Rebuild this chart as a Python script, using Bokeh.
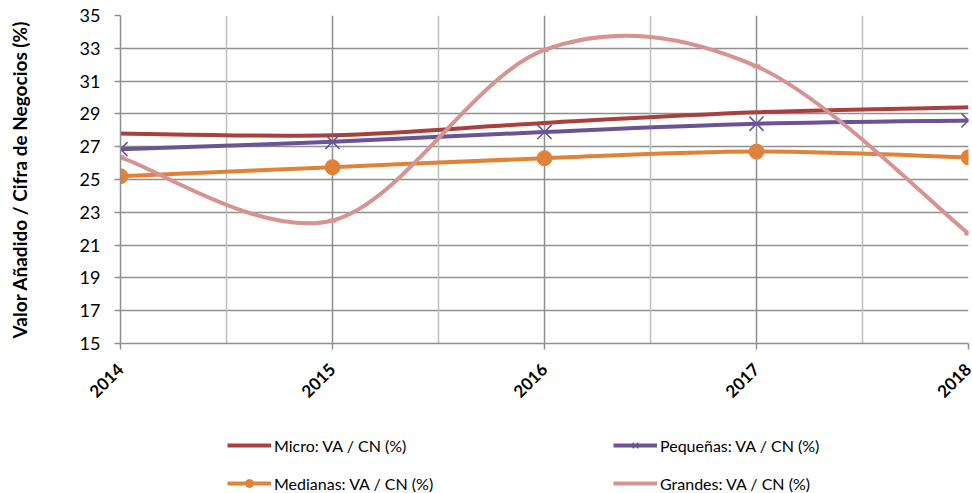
from bokeh.plotting import figure
from bokeh.models import (Range1d, FixedTicker, Grid, Legend, LegendItem)
from bokeh.layouts import column
from bokeh.embed import file_html
from bokeh.resources import INLINE
import math

# ---- data ----
years = [2014, 2015, 2016, 2017, 2018]
micro = [27.8, 27.7, 28.45, 29.1, 29.4]
pequenas = [26.85, 27.3, 27.9, 28.4, 28.6]
medianas = [25.2, 25.75, 26.3, 26.7, 26.35]
grandes = [26.35, 22.5, 32.9, 31.9, 21.7]

y_ticks = [15, 17, 19, 21, 23, 25, 27, 29, 31, 33, 35]
half_years = [2014.5, 2015.5, 2016.5, 2017.5]

labels = ["Micro: VA / CN (%)", "Pequeñas: VA / CN (%)",
          "Medianas: VA / CN (%)", "Grandes: VA / CN (%)"]
colors = ["#A8403E", "#6B5494", "#E0833A", "#D59392"]

FONT = "Lato"


def smooth_segments(xs, ys):
    """Bezier segments through the data points (spreadsheet-style smoothing)."""
    n = len(xs)
    out = dict(x0=[], y0=[], x1=[], y1=[], cx0=[], cy0=[], cx1=[], cy1=[])
    for i in range(n - 1):
        pm = i - 1 if i > 0 else i
        pp = i + 2 if i + 2 < n else i + 1
        out["x0"].append(xs[i]); out["y0"].append(ys[i])
        out["x1"].append(xs[i + 1]); out["y1"].append(ys[i + 1])
        out["cx0"].append(xs[i] + (xs[i + 1] - xs[pm]) / 6)
        out["cy0"].append(ys[i] + (ys[i + 1] - ys[pm]) / 6)
        out["cx1"].append(xs[i + 1] - (xs[pp] - xs[i]) / 6)
        out["cy1"].append(ys[i + 1] - (ys[pp] - ys[i]) / 6)
    return out


# ---------------- main chart ----------------
p1 = figure(width=972, height=420, output_backend="svg", toolbar_location=None,
            x_range=Range1d(2014, 2018), y_range=Range1d(15, 35),
            min_border_left=120, min_border_right=4, min_border_top=15,
            min_border_bottom=77)
p1.outline_line_color = None
p1.background_fill_color = "white"
p1.border_fill_color = "white"

p1.ygrid.ticker = FixedTicker(ticks=y_ticks)
p1.ygrid.grid_line_color = "#8F8F8F"
p1.ygrid.grid_line_width = 1.5
p1.xgrid.ticker = FixedTicker(ticks=years)
p1.xgrid.grid_line_color = "#8F8F8F"
p1.xgrid.grid_line_width = 1.5
p1.add_layout(Grid(dimension=0, ticker=FixedTicker(ticks=half_years),
                   grid_line_color="#BDBDBD", grid_line_width=1.5))

p1.xaxis.ticker = FixedTicker(ticks=years)
p1.yaxis.ticker = FixedTicker(ticks=y_ticks)
for ax in (p1.xaxis[0], p1.yaxis[0]):
    ax.axis_line_color = "#8F8F8F"
    ax.axis_line_width = 1.5
    ax.major_tick_line_color = "#8F8F8F"
    ax.major_tick_line_width = 1.5
    ax.major_tick_in = 0
    ax.major_tick_out = 6
    ax.minor_tick_line_color = None
    ax.major_label_text_font = FONT
    ax.major_label_text_font_size = "18px"
    ax.major_label_text_color = "black"

p1.xaxis.major_label_orientation = math.pi / 4
p1.xaxis.major_label_text_font_style = "bold"
p1.xaxis.major_label_text_font_size = "17px"
p1.xaxis.major_label_standoff = 17

p1.yaxis.major_label_standoff = 14
p1.yaxis.axis_label = "Valor Añadido / Cifra de Negocios (%)"
p1.yaxis.axis_label_text_font = FONT
p1.yaxis.axis_label_text_font_size = "19px"
p1.yaxis.axis_label_text_font_style = "bold"
p1.yaxis.axis_label_text_color = "black"
p1.yaxis.axis_label_standoff = 46

series = [micro, pequenas, medianas, grandes]
for ys, c in zip(series, colors):
    seg = smooth_segments(years, ys)
    p1.bezier(x0=seg["x0"], y0=seg["y0"], x1=seg["x1"], y1=seg["y1"],
              cx0=seg["cx0"], cy0=seg["cy0"], cx1=seg["cx1"], cy1=seg["cy1"],
              line_color=c, line_width=4)

p1.scatter(years, pequenas, marker="x", size=20, line_color=colors[1],
           line_width=1.6)
p1.scatter(years, medianas, marker="circle", size=15,
           fill_color=colors[2], line_color=colors[2])
p1.scatter(years, grandes, marker="dash", size=8, line_color=colors[3],
           line_width=4)

# ---------------- legend strip ----------------
# legend keys: the same series, drawn outside this strip's visible range
p2 = figure(width=972, height=73, output_backend="svg", toolbar_location=None,
            x_axis_location=None, y_axis_location=None,
            x_range=Range1d(0, 1), y_range=Range1d(0, 1),
            min_border=0, outline_line_color=None)
p2.grid.visible = False
p2.background_fill_color = "white"
p2.border_fill_color = "white"

leg_lines = [p2.line(x=years, y=ys, line_color=c, line_width=4)
             for ys, c in zip(series, colors)]
leg_peq = p2.scatter(x=years, y=pequenas, marker="x", size=11,
                     line_color=colors[1], line_width=1.5)
leg_med = p2.scatter(x=years, y=medianas, marker="circle", size=10,
                     fill_color=colors[2], line_color=colors[2])

common = dict(orientation="vertical", padding=0, margin=0, spacing=18,
              label_height=20, glyph_height=20, glyph_width=44,
              label_standoff=3, label_text_font=FONT,
              label_text_font_size="16px", label_text_color="black",
              border_line_color=None, background_fill_alpha=0)
leg1 = Legend(items=[LegendItem(label=labels[0], renderers=[leg_lines[0]]),
                     LegendItem(label=labels[2], renderers=[leg_lines[2], leg_med])],
              location=(107, 0), **common)
leg2 = Legend(items=[LegendItem(label=labels[1], renderers=[leg_lines[1], leg_peq]),
                     LegendItem(label=labels[3], renderers=[leg_lines[3]])],
              location=(493, 0), **common)
p2.add_layout(leg1, "center")
p2.add_layout(leg2, "center")

p = column(p1, p2, spacing=0)

open("out.html", "w").write(file_html(p, INLINE))
